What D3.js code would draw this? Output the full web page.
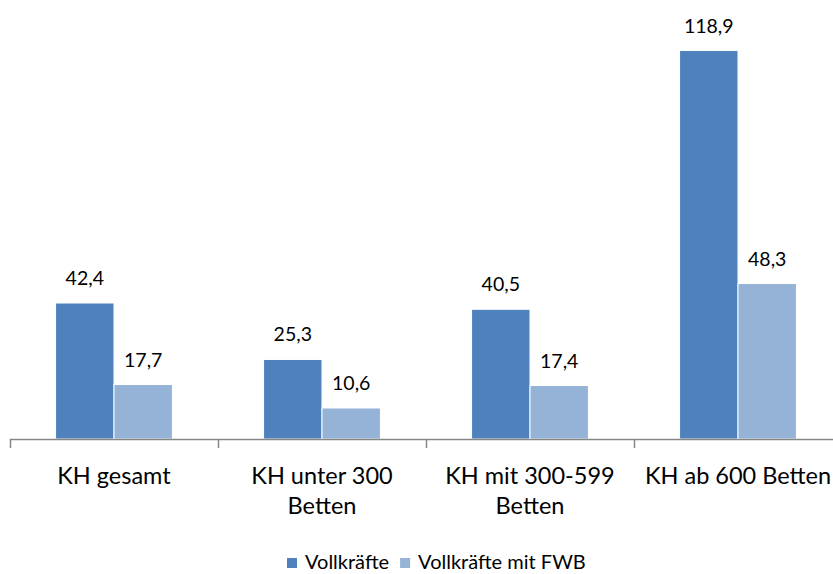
<html>
<head>
<meta charset="utf-8">
<script src="https://d3js.org/d3.v7.min.js"></script>
<style>
  body { margin: 0; background: #fff; }
  text { font-family: Lato, "Open Sans", sans-serif; fill: #000; }
</style>
</head>
<body>
<script>
var categories = [["KH gesamt"], ["KH unter 300", "Betten"], ["KH mit 300-599", "Betten"], ["KH ab 600 Betten"]];
var seriesNames = ["Vollkräfte", "Vollkräfte mit FWB"];
var vollkraefte = [42.4, 25.3, 40.5, 118.9];
var mitFWB = [17.7, 10.6, 17.4, 48.3];
var colors = ["#4F81BD", "#95B3D7"];

var svg = d3.select("body").append("svg").attr("width", 833).attr("height", 574);

var x0 = d3.scaleBand().domain(d3.range(categories.length)).range([10, 842]).padding(0);
var x1 = d3.scaleBand().domain(d3.range(2)).range([0, x0.bandwidth()]).paddingInner(0).paddingOuter(0.78);
var y = d3.scaleLinear().domain([1.2, 118.9]).range([439, 50.5]);

var rows = categories.map(function (c, i) { return [vollkraefte[i], mitFWB[i]]; });

var groups = svg.selectAll("g.grp").data(rows).enter().append("g")
  .attr("class", "grp")
  .attr("transform", function (d, i) { return "translate(" + x0(i) + ",0)"; });

groups.selectAll("rect").data(function (d) { return d; }).enter().append("rect")
  .attr("x", function (d, j) { return x1(j); })
  .attr("y", function (d) { return y(d); })
  .attr("width", x1.bandwidth())
  .attr("height", function (d) { return y.range()[0] - y(d); })
  .style("fill", function (d, j) { return colors[j]; })
  .style("stroke", "#fff")
  .style("stroke-width", 1);

groups.selectAll("text.val").data(function (d) { return d; }).enter().append("text")
  .attr("class", "val")
  .attr("x", function (d, j) { return x1(j) + x1.bandwidth() / 2; })
  .attr("y", function (d) { return y(d) - 18; })
  .attr("text-anchor", "middle")
  .style("font-size", "19.5px")
  .text(function (d) { return d.toFixed(1).replace(".", ","); });

// axis
var axis = svg.append("g");
axis.append("line").attr("x1", 10).attr("x2", 842).attr("y1", 439.5).attr("y2", 439.5)
  .style("stroke", "#868686").style("stroke-width", 1.5);
d3.range(categories.length + 1).forEach(function (i) {
  var xx = i < categories.length ? x0(i) : x0.range()[1];
  axis.append("line").attr("x1", xx + 0.5).attr("x2", xx + 0.5).attr("y1", 439).attr("y2", 448)
    .style("stroke", "#868686").style("stroke-width", 1.5);
});

categories.forEach(function (lines, i) {
  var t = svg.append("text")
    .attr("text-anchor", "middle")
    .style("font-size", "23.5px");
  lines.forEach(function (l, k) {
    t.append("tspan").attr("x", x0(i) + x0.bandwidth() / 2).attr("y", 484 + k * 30).text(l);
  });
});

// legend
var legend = svg.append("g");
var lx = 287;
seriesNames.forEach(function (name, i) {
  legend.append("rect").attr("x", lx).attr("y", 558).attr("width", 10).attr("height", 10).style("fill", colors[i]);
  var t = legend.append("text").attr("x", lx + 18).attr("y", 569).style("font-size", "20px").text(name);
  lx += 18 + t.node().getComputedTextLength() + 11;
});
</script>
</body>
</html>
